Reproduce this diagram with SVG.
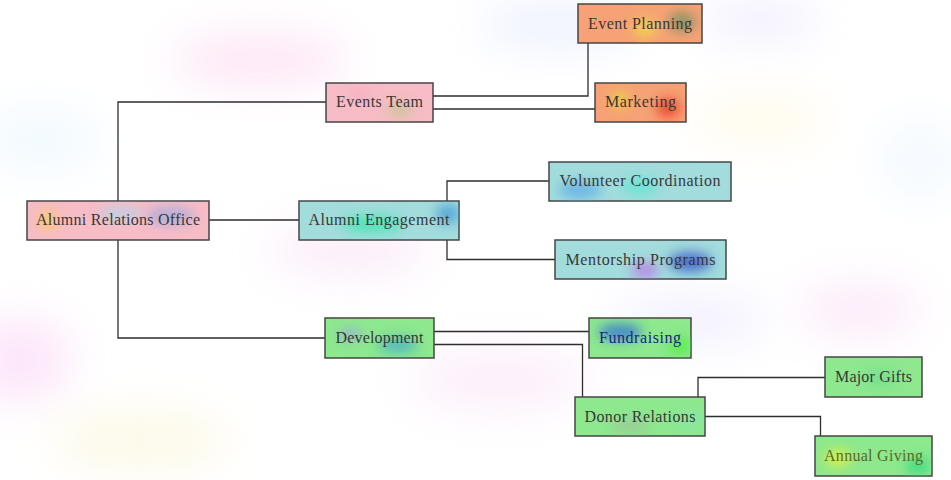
<svg xmlns="http://www.w3.org/2000/svg" width="951" height="480" viewBox="0 0 951 480">
<style>
.box{stroke:#454545;stroke-width:1.5}
.lbl{font-family:"Liberation Serif","Times New Roman",serif;font-size:16px;fill:#383838;text-anchor:middle}
.conn{fill:none;stroke:#2e2e2e;stroke-width:1.3}
.pink{fill:#f7bcc6}
.orange{fill:#f6a276}
.teal{fill:#a2dcdc}
.green{fill:#8de88e}
</style>
<defs>
<filter id="bg" x="-50%" y="-50%" width="200%" height="200%"><feGaussianBlur stdDeviation="22"/></filter>
<filter id="sp" x="-100%" y="-100%" width="300%" height="300%"><feGaussianBlur stdDeviation="6"/></filter>
<clipPath id="c1"><rect x="27" y="201" width="182" height="39"/></clipPath>
<clipPath id="c2"><rect x="326" y="83" width="107" height="39"/></clipPath>
<clipPath id="c3"><rect x="578" y="4" width="124" height="39"/></clipPath>
<clipPath id="c4"><rect x="595" y="83" width="91" height="39"/></clipPath>
<clipPath id="c5"><rect x="299" y="201" width="160" height="39"/></clipPath>
<clipPath id="c6"><rect x="549" y="162" width="182" height="39"/></clipPath>
<clipPath id="c7"><rect x="555" y="240" width="171" height="39"/></clipPath>
<clipPath id="c8"><rect x="325" y="318" width="109" height="40"/></clipPath>
<clipPath id="c9"><rect x="589" y="318" width="102" height="40"/></clipPath>
<clipPath id="c10"><rect x="575" y="397" width="130" height="39"/></clipPath>
<clipPath id="c11"><rect x="825" y="357" width="97" height="40"/></clipPath>
<clipPath id="c12"><rect x="815" y="436" width="117" height="40"/></clipPath>
</defs>
<rect width="951" height="480" fill="#ffffff"/>
<g id="background" filter="url(#bg)" opacity="0.35">
<ellipse cx="20" cy="360" rx="50" ry="40" fill="#f7b3f0"/>
<ellipse cx="260" cy="60" rx="90" ry="25" fill="#f9b6e6"/>
<ellipse cx="560" cy="25" rx="80" ry="20" fill="#c8d2ff"/>
<ellipse cx="760" cy="20" rx="60" ry="20" fill="#d8d2ff"/>
<ellipse cx="860" cy="310" rx="60" ry="25" fill="#f8c0f0"/>
<ellipse cx="500" cy="380" rx="90" ry="30" fill="#f8d0f4"/>
<ellipse cx="140" cy="440" rx="90" ry="30" fill="#f8f0c0"/>
<ellipse cx="350" cy="250" rx="80" ry="25" fill="#f4c8f0"/>
<ellipse cx="40" cy="140" rx="60" ry="30" fill="#d8f0ff"/>
<ellipse cx="760" cy="120" rx="70" ry="25" fill="#fff4c8"/>
<ellipse cx="920" cy="160" rx="40" ry="40" fill="#e0f0ff"/>
<ellipse cx="690" cy="320" rx="80" ry="25" fill="#dcd8ff"/>
</g>
<g id="connectors">
<polyline class="conn" points="209,220 299,220"/>
<polyline class="conn" points="118,201 118,102 326,102"/>
<polyline class="conn" points="118,240 118,338 325,338"/>
<polyline class="conn" points="433,96 588,96 588,43"/>
<polyline class="conn" points="433,109 595,109"/>
<polyline class="conn" points="447,201 447,181 549,181"/>
<polyline class="conn" points="447,240 447,259.5 555,259.5"/>
<polyline class="conn" points="434,331.5 589,331.5"/>
<polyline class="conn" points="434,344.5 582.5,344.5 582.5,397"/>
<polyline class="conn" points="698,397 698,377.5 825,377.5"/>
<polyline class="conn" points="705,416.5 820.5,416.5 820.5,436"/>
</g>
<g id="n-aro">
<rect class="box pink" x="27" y="201" width="182" height="39"/>
<g clip-path="url(#c1)" filter="url(#sp)" opacity="0.7"><ellipse cx="48" cy="220" rx="10" ry="9" fill="#ffd040"/><ellipse cx="120" cy="214" rx="22" ry="7" fill="#a8d8f0"/><ellipse cx="170" cy="216" rx="24" ry="9" fill="#98a8e0"/></g>
<text class="lbl" x="118" y="225" textLength="164">Alumni Relations Office</text>
</g>
<g id="n-events">
<rect class="box pink" x="326" y="83" width="107" height="39"/>
<g clip-path="url(#c2)" filter="url(#sp)" opacity="0.6"><ellipse cx="400" cy="110" rx="14" ry="7" fill="#b8c880"/><ellipse cx="360" cy="95" rx="12" ry="6" fill="#f6a8c0"/></g>
<text class="lbl" x="379.5" y="107" textLength="87">Events Team</text>
</g>
<g id="n-planning">
<rect class="box orange" x="578" y="4" width="124" height="39"/>
<g clip-path="url(#c3)" filter="url(#sp)" opacity="0.75"><ellipse cx="645" cy="28" rx="12" ry="9" fill="#f4e040"/><ellipse cx="682" cy="22" rx="14" ry="10" fill="#709060"/></g>
<text class="lbl" x="640" y="29" textLength="104">Event Planning</text>
</g>
<g id="n-marketing">
<rect class="box orange" x="595" y="83" width="91" height="39"/>
<g clip-path="url(#c4)" filter="url(#sp)" opacity="0.75"><ellipse cx="620" cy="100" rx="9" ry="8" fill="#e8e030"/><ellipse cx="668" cy="108" rx="12" ry="10" fill="#f03020"/></g>
<text class="lbl" x="640.5" y="107" textLength="71">Marketing</text>
</g>
<g id="n-engagement">
<rect class="box teal" x="299" y="201" width="160" height="39"/>
<g clip-path="url(#c5)" filter="url(#sp)" opacity="0.75"><ellipse cx="372" cy="224" rx="30" ry="8" fill="#30e8a8"/><ellipse cx="448" cy="214" rx="12" ry="10" fill="#4098d8"/></g>
<text class="lbl" x="379" y="225" textLength="141">Alumni Engagement</text>
</g>
<g id="n-volunteer">
<rect class="box teal" x="549" y="162" width="182" height="39"/>
<g clip-path="url(#c6)" filter="url(#sp)" opacity="0.7"><ellipse cx="580" cy="190" rx="22" ry="9" fill="#58a8e8"/><ellipse cx="640" cy="186" rx="18" ry="8" fill="#50e8d0"/></g>
<text class="lbl" x="640" y="186" textLength="161">Volunteer Coordination</text>
</g>
<g id="n-mentorship">
<rect class="box teal" x="555" y="240" width="171" height="39"/>
<g clip-path="url(#c7)" filter="url(#sp)" opacity="0.75"><ellipse cx="645" cy="270" rx="14" ry="8" fill="#c070e8"/><ellipse cx="690" cy="262" rx="22" ry="10" fill="#3050c8"/></g>
<text class="lbl" x="640.5" y="265" textLength="150">Mentorship Programs</text>
</g>
<g id="n-development">
<rect class="box green" x="325" y="318" width="109" height="40"/>
<g clip-path="url(#c8)" filter="url(#sp)" opacity="0.7"><ellipse cx="398" cy="345" rx="20" ry="8" fill="#40a8d0"/><ellipse cx="350" cy="335" rx="12" ry="7" fill="#9aa8e0"/></g>
<text class="lbl" x="379.5" y="343" textLength="88">Development</text>
</g>
<g id="n-fundraising">
<rect class="box green" x="589" y="318" width="102" height="40"/>
<g clip-path="url(#c9)" filter="url(#sp)" opacity="0.8"><ellipse cx="620" cy="332" rx="22" ry="8" fill="#3070d8"/><ellipse cx="680" cy="346" rx="12" ry="9" fill="#50f040"/></g>
<text class="lbl" x="640" y="343" textLength="82" style="fill:#20208a">Fundraising</text>
</g>
<g id="n-donor">
<rect class="box green" x="575" y="397" width="130" height="39"/>
<g clip-path="url(#c10)" filter="url(#sp)" opacity="0.5"><ellipse cx="630" cy="426" rx="18" ry="7" fill="#a8b0a0"/><ellipse cx="690" cy="420" rx="12" ry="8" fill="#80e8c0"/></g>
<text class="lbl" x="640" y="422" textLength="111">Donor Relations</text>
</g>
<g id="n-major">
<rect class="box green" x="825" y="357" width="97" height="40"/>
<g clip-path="url(#c11)" filter="url(#sp)" opacity="0.5"><ellipse cx="880" cy="378" rx="18" ry="8" fill="#60d890"/></g>
<text class="lbl" x="873.5" y="382" textLength="77">Major Gifts</text>
</g>
<g id="n-annual">
<rect class="box green" x="815" y="436" width="117" height="40"/>
<g clip-path="url(#c12)" filter="url(#sp)" opacity="0.8"><ellipse cx="838" cy="458" rx="14" ry="9" fill="#e8f040"/><ellipse cx="918" cy="466" rx="12" ry="9" fill="#30d880"/></g>
<text class="lbl" x="873.5" y="461" textLength="99" style="fill:#5a6a20">Annual Giving</text>
</g>
</svg>
